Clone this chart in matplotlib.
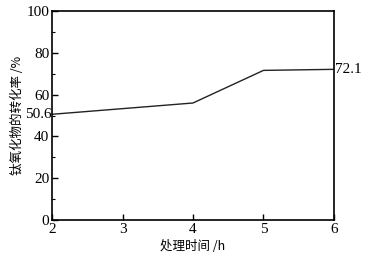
import matplotlib
matplotlib.use("Agg")
import matplotlib.pyplot as plt
from matplotlib.ticker import MultipleLocator

plt.rcParams['font.family'] = ['Liberation Serif', 'Noto Sans CJK SC']

# 处理时间 (h) and 转化率 (%)
hours = [2, 4, 5, 6]
rate = [50.6, 56.0, 71.6, 72.1]

fig = plt.figure(figsize=(3.69, 2.62), dpi=100)
ax = fig.add_axes([0.141, 0.160, 0.764, 0.798])

ax.plot(hours, rate, color="#222222", linewidth=1.0)

ax.set_xlim(2, 6)
ax.set_ylim(0, 100)
ax.set_xticks([2, 3, 4, 5, 6])
ax.set_yticks([0, 20, 40, 60, 80, 100])
ax.yaxis.set_minor_locator(MultipleLocator(10))
ax.tick_params(direction="in", labelsize=11, length=4, width=1, pad=2)
ax.tick_params(axis="y", which="minor", direction="in", length=2.5, width=0.8)
for s in ax.spines.values():
    s.set_linewidth(1.2)

ax.text(1.99, rate[0], "50.6", ha="right", va="center", fontsize=11)
ax.text(6.02, rate[-1], "72.1", ha="left", va="center", fontsize=11)

ax.set_xlabel("处理时间 /h", fontsize=9, family=['Noto Sans CJK SC'], labelpad=3)
ax.set_ylabel("钛氧化物的转化率 /%", fontsize=9, family=['Noto Sans CJK SC'], labelpad=2)

fig.savefig("out.png", dpi=100)
